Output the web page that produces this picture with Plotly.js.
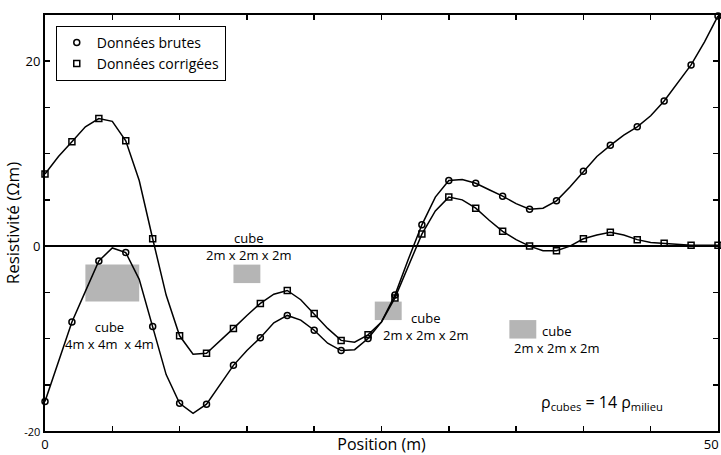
<!DOCTYPE html>
<html>
<head>
<meta charset="utf-8">
<script src="https://cdn.plot.ly/plotly-3.0.1.min.js"></script>
<style>html,body{margin:0;padding:0;background:#fff;}#chart{width:721px;height:455px;}</style>
</head>
<body>
<div id="chart"></div>
<script>
const positions = [0,1,2,3,4,5,6,7,8,9,10,11,12,13,14,15,16,17,18,19,20,21,22,23,24,25,26,27,28,29,30,31,32,33,34,35,36,37,38,39,40,41,42,43,44,45,46,47,48,49,50];
const rawRes = [-16.8,-12.5,-8.2,-4.9,-1.6,-0.2,-0.7,-3.6,-8.7,-13.9,-17.0,-18.1,-17.1,-15.0,-12.9,-11.3,-9.9,-8.3,-7.5,-8.0,-9.1,-10.5,-11.3,-11.2,-10.0,-8.2,-5.3,-1.4,2.3,5.3,7.1,7.2,6.8,6.1,5.4,4.6,4.0,4.1,4.9,6.4,8.1,9.7,10.9,12.0,12.9,14.1,15.7,17.6,19.6,22.1,24.9];
const corrRes = [7.8,9.7,11.3,12.9,13.8,13.5,11.4,7.1,0.8,-5.3,-9.7,-11.7,-11.6,-10.3,-8.9,-7.5,-6.2,-5.2,-4.8,-5.8,-7.3,-8.9,-10.2,-10.4,-9.6,-8.2,-5.6,-2.2,1.3,3.8,5.3,5.0,4.1,2.8,1.6,0.7,0.0,-0.5,-0.5,0.0,0.8,1.2,1.5,1.2,0.7,0.4,0.3,0.2,0.1,0.1,0.1];
const seriesNames = ['Données brutes','Données corrigées'];
const xTickVals = [0,50];
const xTickText = ['0','50&nbsp;&nbsp;&nbsp;&nbsp;'];
const yTickVals = [-20,0,20];
const yTickText = ['<span style="font-size:11px">-20</span>','0','20'];
// cube anomalies (m, Ωm)
const cubeX0 = [3,14,24.5,34.5];
const cubeX1 = [7,16,26.5,36.5];
const cubeY0 = [-2,-2,-6,-8];
const cubeY1 = [-6,-4,-8,-10];
const cubeLabels = ['cube<br>4m x 4m&nbsp;&nbsp;x 4m','cube<br>2m x 2m x 2m','cube<br>2m x 2m x 2m','cube<br>2m x 2m x 2m'];

const FONT = 'Open Sans, Noto Sans, sans-serif';
const evenIdx = positions.map((p,i)=>i).filter(i => positions[i] % 2 === 0);
const pick = (arr) => evenIdx.map(i => arr[i]);

const lineStyle = {color:'#000', width:1.5};
const traces = [
  {x: positions, y: rawRes, mode:'lines', line: lineStyle, showlegend:false, hoverinfo:'skip'},
  {x: positions, y: corrRes, mode:'lines', line: lineStyle, showlegend:false, hoverinfo:'skip'},
  {x: pick(positions), y: pick(rawRes), mode:'markers', name: seriesNames[0], cliponaxis:false,
   marker:{symbol:'circle-open', size:6, color:'#000', line:{width:1.5, color:'#000'}}},
  {x: pick(positions), y: pick(corrRes), mode:'markers', name: seriesNames[1], cliponaxis:false,
   marker:{symbol:'square-open', size:6, color:'#000', line:{width:1.5, color:'#000'}}}
];

const shapes = cubeX0.map((x0,i)=>({
  type:'rect', xref:'x', yref:'y', x0:x0, x1:cubeX1[i], y0:cubeY0[i], y1:cubeY1[i],
  fillcolor:'#b5b5b5', line:{width:0}, layer:'below'
}));

const labelPos = [[4.8,-9.7],[15.15,-0.05],[28.3,-8.7],[38.05,-10.1]];
const annotations = cubeLabels.map((t,i)=>({
  x: labelPos[i][0], y: labelPos[i][1], xref:'x', yref:'y', text:t, showarrow:false,
  font:{family:FONT, size:13, color:'#000'}, align:'center'
}));
annotations.push({
  x: 41.4, y: -16.9, xref:'x', yref:'y', showarrow:false,
  text:'ρ<sub>cubes</sub> = 14 ρ<sub>milieu</sub>',
  font:{family:FONT, size:16, color:'#000'}
});

const minorTicks = {dtick:5, ticks:'inside', ticklen:5, tickwidth:1.5, tickcolor:'#000', showgrid:false};

const layout = {
  width:721, height:455,
  margin:{l:45, r:3, t:15, b:24},
  paper_bgcolor:'#fff', plot_bgcolor:'#fff',
  font:{family:FONT, color:'#000', size:13},
  showlegend:true,
  legend:{x:0.016, y:0.974, xanchor:'left', yanchor:'top', bgcolor:'#fff',
    bordercolor:'#000', borderwidth:1, font:{family:FONT, size:14, color:'#000'},
    tracegroupgap:0, itemwidth:30},
  xaxis:{range:[0,50], tickmode:'array', tickvals:xTickVals, ticktext:xTickText, ticks:'inside', ticklen:5,
    tickwidth:1.5, tickcolor:'#000', showline:true, linewidth:2, linecolor:'#000', mirror:'ticks',
    showgrid:false, zeroline:false, tickfont:{family:FONT, size:13}, minor: minorTicks,
    ticklabeloverflow:'allow',
    title:{text:'Position (m)', font:{family:FONT, size:16}, standoff:0}},
  yaxis:{range:[-20,25], tickmode:'array', tickvals:yTickVals, ticktext:yTickText, ticks:'inside', ticklen:5,
    tickwidth:1.5, tickcolor:'#000', showline:true, linewidth:2, linecolor:'#000', mirror:'ticks',
    showgrid:false, zeroline:true, zerolinecolor:'#000', zerolinewidth:1.5,
    tickfont:{family:FONT, size:13}, minor: minorTicks, ticklabeloverflow:'allow',
    title:{text:'Resistivité (Ωm)', font:{family:FONT, size:17}, standoff:0}},
  shapes: shapes,
  annotations: annotations
};

Plotly.newPlot('chart', traces, layout, {displayModeBar:false, staticPlot:true});
</script>
</body>
</html>
